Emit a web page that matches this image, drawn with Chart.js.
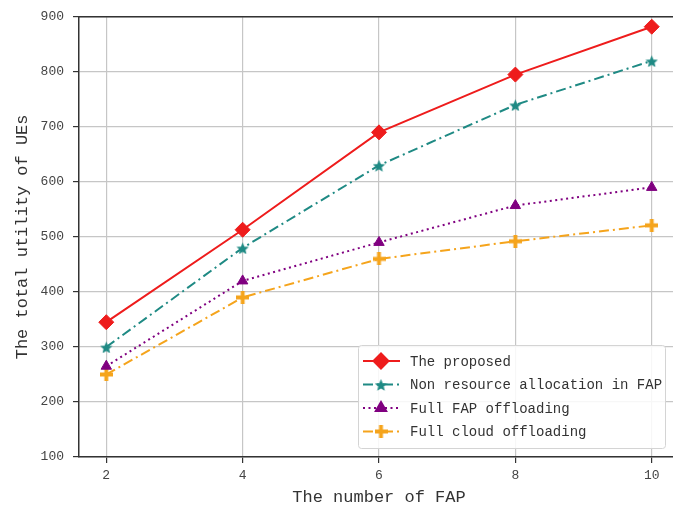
<!DOCTYPE html>
<html>
<head>
<meta charset="utf-8">
<script src="https://cdn.jsdelivr.net/npm/chart.js@4.4.1/dist/chart.umd.min.js"></script>
<style>
  html, body { margin: 0; padding: 0; background: #fff; overflow: hidden; }
  #wrap { width: 700px; height: 513px; }
</style>
</head>
<body>
<div id="wrap"><canvas id="utilityChart" width="700" height="513"></canvas></div>
<script>
// number of FAPs on the x axis
const fapCounts = [2, 4, 6, 8, 10];

// total utility of UEs for each scheme
const proposedUtility = [345, 513, 690, 795, 882];
const nonAllocUtility = [300, 480, 630, 740, 820];
const fullFapUtility = [265, 420, 490, 557, 590];
const fullCloudUtility = [250, 390, 460, 492, 521];

const seriesLabels = [
  "The proposed",
  "Non resource allocation in FAP",
  "Full FAP offloading",
  "Full cloud offloading",
];

const xTicks = [2, 4, 6, 8, 10];
const yTicks = [100, 200, 300, 400, 500, 600, 700, 800, 900];

const FONT = "'Liberation Mono', 'DejaVu Sans Mono', monospace";

// filled star / filled plus markers (Chart.js only has outline versions)
function makeMarker(shape, color, size) {
  const c = document.createElement("canvas");
  c.width = size;
  c.height = size;
  const g = c.getContext("2d");
  const m = size / 2;
  g.fillStyle = color;
  g.beginPath();
  if (shape === "star") {
    for (let i = 0; i < 10; i++) {
      const r = i % 2 ? m * 0.45 : m;
      const a = -Math.PI / 2 + (i * Math.PI) / 5;
      g.lineTo(m + r * Math.cos(a), m + 1 + r * Math.sin(a));
    }
    g.closePath();
  } else {
    const t = size * 0.15;
    g.rect(m - t, 0, 2 * t, size);
    g.rect(0, m - t, size, 2 * t);
  }
  g.fill();
  return c;
}

const toPoints = (vals) => vals.map((v, i) => ({ x: fapCounts[i], y: v }));

const datasets = [
  {
    label: seriesLabels[0],
    data: toPoints(proposedUtility),
    borderColor: "#ee1c1c",
    backgroundColor: "#ee1c1c",
    borderWidth: 2,
    pointStyle: "rectRot",
    pointRadius: 7.5,
    pointBorderWidth: 1,
  },
  {
    label: seriesLabels[1],
    data: toPoints(nonAllocUtility),
    borderColor: "#1f8a84",
    backgroundColor: "#1f8a84",
    borderWidth: 2,
    borderDash: [10, 4, 2, 4],
    pointStyle: makeMarker("star", "#1f8a84", 13),
  },
  {
    label: seriesLabels[2],
    data: toPoints(fullFapUtility),
    borderColor: "#800080",
    backgroundColor: "#800080",
    borderWidth: 2,
    borderDash: [2, 3.5],
    pointStyle: "triangle",
    pointRadius: 6,
    pointBorderWidth: 1,
  },
  {
    label: seriesLabels[3],
    data: toPoints(fullCloudUtility),
    borderColor: "#f5a41c",
    backgroundColor: "#f5a41c",
    borderWidth: 2,
    borderDash: [10, 4, 2, 4],
    pointStyle: makeMarker("plus", "#f5a41c", 13),
  },
];

// top spine + legend box in the lower right of the plot
const frameAndLegend = {
  id: "frameAndLegend",
  afterDraw(chart) {
    const ctx = chart.ctx;
    const area = chart.chartArea;
    ctx.save();
    ctx.strokeStyle = "#333";
    ctx.lineWidth = 1.5;
    ctx.beginPath();
    ctx.moveTo(area.left, area.top);
    ctx.lineTo(area.right, area.top);
    ctx.stroke();

    const bx = 358, by = 345, bw = 307, bh = 103;
    ctx.fillStyle = "rgba(255,255,255,0.85)";
    ctx.strokeStyle = "#d4d4d4";
    ctx.lineWidth = 1;
    ctx.beginPath();
    ctx.roundRect(bx + 0.5, by + 0.5, bw, bh, 3);
    ctx.fill();
    ctx.stroke();

    ctx.font = "14px " + FONT;
    ctx.textBaseline = "middle";
    chart.data.datasets.forEach((ds, i) => {
      const y = by + 16 + i * 23.5;
      ctx.strokeStyle = ds.borderColor;
      ctx.lineWidth = ds.borderWidth;
      ctx.setLineDash(ds.borderDash || []);
      ctx.beginPath();
      ctx.moveTo(bx + 5, y);
      ctx.lineTo(bx + 42, y);
      ctx.stroke();
      ctx.setLineDash([]);
      ctx.fillStyle = ds.backgroundColor;
      ctx.strokeStyle = ds.borderColor;
      Chart.helpers.drawPoint(
        ctx,
        { pointStyle: ds.pointStyle, radius: ds.pointRadius || 6, rotation: 0, borderWidth: 1 },
        bx + 23,
        y
      );
      ctx.fillStyle = "#333";
      ctx.fillText(ds.label, bx + 52, y + 1);
    });
    ctx.restore();
  },
};

new Chart(document.getElementById("utilityChart"), {
  type: "line",
  data: { datasets },
  options: {
    responsive: false,
    animation: false,
    layout: { padding: { top: 14, right: 21, left: 0, bottom: 0 } },
    plugins: { legend: { display: false }, tooltip: { enabled: false } },
    scales: {
      x: {
        type: "linear",
        min: 1.6,
        max: 10.4,
        afterBuildTicks: (scale) => {
          scale.ticks = xTicks.map((v) => ({ value: v }));
        },
        afterFit: (scale) => {
          scale.height = 56;
        },
        grid: { color: "#c6c6c6", lineWidth: 1.2, tickColor: "#333", tickLength: 6 },
        border: { color: "#333", width: 1.5 },
        ticks: { color: "#444", font: { family: FONT, size: 13 }, padding: 5 },
        title: {
          display: true,
          text: "The number of FAP",
          color: "#333",
          font: { family: FONT, size: 17 },
          padding: { top: 0, bottom: 5 },
        },
      },
      y: {
        min: 100,
        max: 900,
        afterBuildTicks: (scale) => {
          scale.ticks = yTicks.map((v) => ({ value: v }));
        },
        afterFit: (scale) => {
          scale.width = 79;
        },
        grid: { color: "#c6c6c6", lineWidth: 1.2, tickColor: "#333", tickLength: 6 },
        border: { color: "#333", width: 1.5 },
        ticks: { color: "#444", font: { family: FONT, size: 13 }, padding: 9 },
        title: {
          display: true,
          text: "The total utility of UEs",
          color: "#333",
          font: { family: FONT, size: 17 },
          padding: { top: 12, bottom: 0 },
        },
      },
    },
  },
  plugins: [frameAndLegend],
});
</script>
</body>
</html>
